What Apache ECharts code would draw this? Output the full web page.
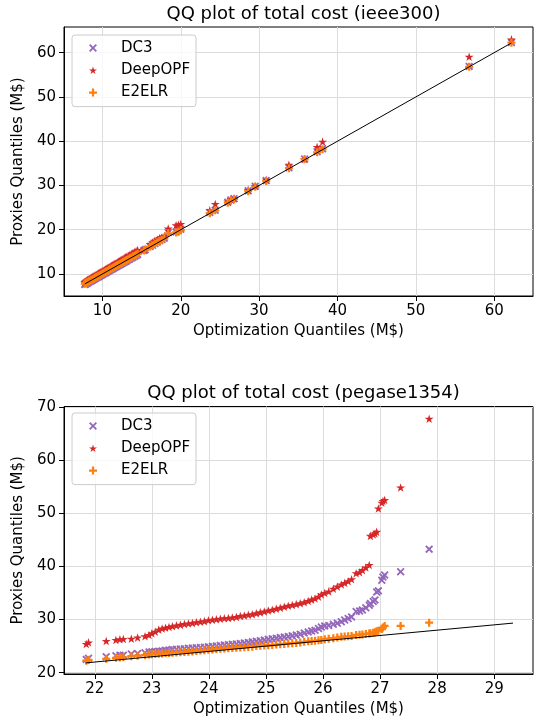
<!DOCTYPE html>
<html>
<head>
<meta charset="utf-8">
<title>QQ plot of total cost</title>
<script src="https://cdn.jsdelivr.net/npm/echarts@6/dist/echarts.min.js"></script>
<style>
html, body { margin: 0; padding: 0; background: #fff; }
#chart { width: 537px; height: 723px; }
</style>
</head>
<body>
<div id="chart"></div>
<script>
/*---------- 数据: ieee300 ----------*/
var topX = [7.75, 7.85, 7.95, 8.05, 8.15, 8.3, 8.45, 8.6, 8.75, 8.9,
	9.05, 9.2, 9.35, 9.5, 9.65, 9.8, 9.95, 10.1, 10.25, 10.4,
	10.55, 10.7, 10.85, 11.0, 11.15, 11.3, 11.45, 11.6, 11.75, 11.9,
	12.05, 12.2, 12.35, 12.5, 12.65, 12.8, 12.95, 13.1, 13.3, 13.5,
	13.7, 13.9, 14.1, 14.3, 14.5, 15.3, 15.45, 16.1, 16.4, 16.7,
	17.0, 17.3, 17.6, 17.9, 18.4, 19.4, 19.7, 20.0, 23.7, 24.4,
	26.0, 26.4, 26.8, 28.6, 29.5, 30.9, 33.8, 35.8, 37.4, 38.1,
	56.8, 62.2];
var topDC3 = [7.65, 7.75, 7.85, 7.95, 8.05, 8.2, 8.35, 8.5, 8.65, 8.8,
	8.95, 9.1, 9.25, 9.4, 9.55, 9.7, 9.85, 10.0, 10.15, 10.3,
	10.45, 10.6, 10.75, 10.9, 11.05, 11.2, 11.35, 11.5, 11.65, 11.8,
	11.95, 12.1, 12.25, 12.4, 12.55, 12.7, 12.85, 13.0, 13.2, 13.4,
	13.6, 13.8, 14.0, 14.2, 14.4, 15.3, 15.5, 16.2, 16.5, 16.9,
	17.2, 17.5, 17.8, 18.1, 19.4, 19.5, 19.8, 20.1, 23.9, 24.4,
	26.2, 26.7, 27.0, 28.8, 29.8, 31.1, 34.0, 36.0, 37.6, 38.3,
	56.9, 62.3];
var topDeepOPF = [8.2, 8.3, 8.45, 8.55, 8.7, 8.85, 9.0, 9.2, 9.35, 9.5,
	9.65, 9.8, 10.0, 10.15, 10.3, 10.45, 10.6, 10.75, 10.9, 11.05,
	11.2, 11.35, 11.5, 11.7, 11.85, 12.0, 12.15, 12.3, 12.45, 12.6,
	12.8, 12.95, 13.1, 13.25, 13.4, 13.6, 13.75, 13.9, 14.1, 14.3,
	14.55, 14.75, 14.95, 15.2, 15.4, 15.6, 15.7, 16.8, 17.1, 17.5,
	17.8, 18.1, 18.3, 18.6, 20.3, 21.0, 21.1, 21.3, 24.4, 25.8,
	26.4, 26.9, 27.1, 29.0, 29.9, 31.3, 34.7, 36.0, 38.7, 39.9,
	59.1, 63.0];
var topE2ELR = [7.8, 7.9, 8.0, 8.1, 8.2, 8.35, 8.5, 8.65, 8.8, 8.95,
	9.1, 9.25, 9.4, 9.55, 9.7, 9.85, 10.0, 10.15, 10.3, 10.45,
	10.6, 10.75, 10.9, 11.05, 11.2, 11.35, 11.5, 11.65, 11.8, 11.95,
	12.1, 12.25, 12.4, 12.55, 12.7, 12.85, 13.0, 13.15, 13.35, 13.55,
	13.75, 13.95, 14.15, 14.35, 14.55, 15.3, 15.45, 16.2, 16.5, 16.85,
	17.15, 17.45, 17.7, 18.0, 19.2, 19.4, 19.6, 19.9, 23.75, 24.4,
	26.1, 26.6, 26.9, 28.7, 29.7, 31.0, 33.9, 35.9, 37.5, 38.2,
	56.8, 62.25];
var topLine = [7.75, 62.2];
var topTicksX = [10, 20, 30, 40, 50, 60];
var topTicksY = [10, 20, 30, 40, 50, 60];

/*---------- 数据: pegase1354 ----------*/
var botX = [21.85, 21.89, 22.2, 22.37, 22.44, 22.5, 22.64, 22.75, 22.88, 22.95,
	23.0, 23.06, 23.12, 23.18, 23.24, 23.3, 23.36, 23.43, 23.5, 23.57,
	23.64, 23.71, 23.78, 23.85, 23.92, 23.99, 24.06, 24.13, 24.2, 24.27,
	24.34, 24.41, 24.48, 24.55, 24.62, 24.69, 24.76, 24.83, 24.9, 24.97,
	25.04, 25.11, 25.18, 25.25, 25.32, 25.39, 25.46, 25.53, 25.6, 25.67,
	25.74, 25.8, 25.86, 25.92, 25.97, 26.03, 26.1, 26.18, 26.25, 26.32,
	26.38, 26.44, 26.5, 26.58, 26.64, 26.69, 26.75, 26.81, 26.83, 26.88,
	26.91, 26.94, 26.97, 27.03, 27.05, 27.08, 27.36, 27.86];
var botDC3 = [22.5, 22.7, 23.0, 23.2, 23.3, 23.3, 23.5, 23.6, 23.75, 23.9,
	23.95, 24.0, 24.05, 24.1, 24.2, 24.25, 24.35, 24.4, 24.45, 24.5,
	24.6, 24.65, 24.7, 24.75, 24.8, 24.9, 24.95, 25.0, 25.1, 25.2,
	25.25, 25.35, 25.4, 25.5, 25.6, 25.7, 25.8, 25.9, 26.0, 26.15,
	26.3, 26.4, 26.5, 26.6, 26.7, 26.8, 26.95, 27.1, 27.25, 27.45,
	27.65, 27.85, 28.0, 28.3, 28.6, 28.8, 28.9, 29.1, 29.3, 29.6,
	29.9, 30.2, 30.5, 31.5, 31.6, 31.8, 32.2, 32.7, 33.0, 33.4,
	33.7, 35.2, 35.4, 37.4, 38.0, 38.4, 39.0, 43.25];
var botDeepOPF = [25.4, 25.7, 25.95, 26.15, 26.3, 26.35, 26.4, 26.6, 26.85, 27.1,
	27.4, 27.7, 28.1, 28.3, 28.45, 28.6, 28.75, 28.9, 29.0, 29.15,
	29.25, 29.35, 29.5, 29.6, 29.7, 29.85, 29.95, 30.05, 30.15, 30.25,
	30.3, 30.4, 30.5, 30.65, 30.75, 30.9, 31.0, 31.2, 31.35, 31.5,
	31.7, 31.85, 32.05, 32.2, 32.4, 32.6, 32.75, 32.9, 33.05, 33.25,
	33.5, 33.75, 33.95, 34.3, 34.7, 35.0, 35.3, 35.8, 36.2, 36.6,
	36.9, 37.2, 37.6, 38.7, 38.9, 39.3, 39.8, 40.25, 45.75, 46.0,
	46.2, 46.5, 50.9, 52.0, 52.3, 52.5, 54.85, 67.8];
var botE2ELR = [22.25, 22.4, 22.6, 22.8, 22.85, 22.9, 23.1, 23.2, 23.3, 23.4,
	23.45, 23.5, 23.55, 23.6, 23.65, 23.7, 23.75, 23.8, 23.85, 23.9,
	23.95, 24.0, 24.1, 24.15, 24.2, 24.3, 24.35, 24.45, 24.5, 24.55,
	24.6, 24.65, 24.7, 24.75, 24.8, 24.85, 24.9, 25.0, 25.05, 25.1,
	25.15, 25.2, 25.3, 25.35, 25.4, 25.5, 25.55, 25.6, 25.7, 25.8,
	25.9, 25.95, 26.0, 26.1, 26.15, 26.3, 26.4, 26.5, 26.6, 26.75,
	26.8, 26.85, 26.9, 27.1, 27.15, 27.2, 27.3, 27.35, 27.4, 27.5,
	27.6, 27.8, 27.9, 28.2, 28.5, 28.8, 28.8, 29.4];
var botLine = [21.84, 29.33];
var botTicksX = [22, 23, 24, 25, 26, 27, 28, 29];
var botTicksY = [20, 30, 40, 50, 60, 70];

/*---------- 样式 ----------*/
var FONT = "DejaVu Sans";
var names = ["DC3", "DeepOPF", "E2ELR"];
var colors = ["#9467bd", "#d62728", "#ff7f0e"];
var sizes = [8, 9, 8];
var icons = [
	"path://M0,1.6L1.6,0L5,3.4L8.4,0L10,1.6L6.6,5L10,8.4L8.4,10L5,6.6L1.6,10L0,8.4L3.4,5Z",
	"path://M50,0L61.23,34.55L97.55,34.55L68.17,55.9L79.39,90.45L50,69.1L20.61,90.45L31.83,55.9L2.45,34.55L38.77,34.55Z",
	"path://M3.6,0H6.4V3.6H10V6.4H6.4V10H3.6V6.4H0V3.6H3.6Z"
];

function pairs(xs, ys) {
	return xs.map(function(x, i) { return [x, ys[i]]; });
}

function xAxis(idx, min, max, ticks) {
	return {
		type: "value", gridIndex: idx, min: min, max: max,
		name: "Optimization Quantiles (M$)", nameLocation: "middle", nameGap: 28,
		nameTextStyle: { color: "#000", fontSize: 15, fontFamily: FONT },
		axisLine: { show: true, onZero: false, lineStyle: { color: "#000", width: 1 } },
		axisTick: { show: true, length: 5, customValues: ticks, lineStyle: { color: "#000" } },
		axisLabel: { customValues: ticks, margin: 8, color: "#000", fontSize: 15, fontFamily: FONT },
		splitLine: { show: true, lineStyle: { color: "#dcdcdc", width: 1 } }
	};
}

function yAxis(idx, min, max, ticks) {
	return {
		type: "value", gridIndex: idx, min: min, max: max,
		name: "Proxies Quantiles (M$)", nameLocation: "middle", nameGap: 31, nameRotate: 90,
		nameTextStyle: { color: "#000", fontSize: 15, fontFamily: FONT },
		axisLine: { show: true, onZero: false, lineStyle: { color: "#000", width: 1 } },
		axisTick: { show: true, length: 5, customValues: ticks, lineStyle: { color: "#000" } },
		axisLabel: { customValues: ticks, margin: 8, color: "#000", fontSize: 15, fontFamily: FONT },
		splitLine: { show: true, lineStyle: { color: "#dcdcdc", width: 1 } }
	};
}

function legend(top) {
	return {
		orient: "vertical", left: 72, top: top,
		padding: [5, 6, 6, 17],
		itemWidth: 8, itemHeight: 8, itemGap: 6.3,
		borderColor: "#cccccc", borderWidth: 1, borderRadius: 3,
		backgroundColor: "rgba(255,255,255,0.8)",
		textStyle: { color: "#000", fontSize: 15, fontFamily: FONT, lineHeight: 16, padding: [0, 0, 0, 19] },
		data: names.map(function(n, i) { return { name: n, icon: icons[i] }; })
	};
}

function scatter(i, grid, xs, ys) {
	return {
		name: names[i], type: "scatter", xAxisIndex: grid, yAxisIndex: grid,
		symbol: icons[i], symbolSize: sizes[i], symbolKeepAspect: true,
		itemStyle: { color: colors[i], opacity: 1 },
		data: pairs(xs, ys), z: 2 + i
	};
}

function diag(grid, ends) {
	return {
		type: "line", xAxisIndex: grid, yAxisIndex: grid, symbol: "none",
		lineStyle: { color: "#000", width: 1 }, silent: true, z: 10,
		data: [[ends[0], ends[0]], [ends[1], ends[1]]]
	};
}

/*---------- 图表 ----------*/
var myChart = echarts.init(document.getElementById("chart"), null, { renderer: "canvas" });
myChart.setOption({
	animation: false,
	backgroundColor: "#fff",
	title: [
		{ text: "QQ plot of total cost (ieee300)", left: 298.5, top: 0, textAlign: "center",
			textStyle: { color: "#000", fontSize: 18, fontWeight: "normal", fontFamily: FONT } },
		{ text: "QQ plot of total cost (pegase1354)", left: 298.5, top: 379, textAlign: "center",
			textStyle: { color: "#000", fontSize: 18, fontWeight: "normal", fontFamily: FONT } }
	],
	legend: [legend(35), legend(413)],
	grid: [
		{ left: 64, right: 4, top: 27, height: 269, show: true, borderColor: "#000", borderWidth: 1, backgroundColor: "transparent" },
		{ left: 64, right: 4, top: 406.5, height: 267.5, show: true, borderColor: "#000", borderWidth: 1, backgroundColor: "transparent" }
	],
	xAxis: [xAxis(0, 5.1, 64.95, topTicksX), xAxis(1, 21.46, 29.68, botTicksX)],
	yAxis: [yAxis(0, 5.03, 65.8, topTicksY), yAxis(1, 19.75, 70.1, botTicksY)],
	series: [
		scatter(0, 0, topX, topDC3),
		scatter(1, 0, topX, topDeepOPF),
		scatter(2, 0, topX, topE2ELR),
		diag(0, topLine),
		scatter(0, 1, botX, botDC3),
		scatter(1, 1, botX, botDeepOPF),
		scatter(2, 1, botX, botE2ELR),
		diag(1, botLine)
	]
});
</script>
</body>
</html>
